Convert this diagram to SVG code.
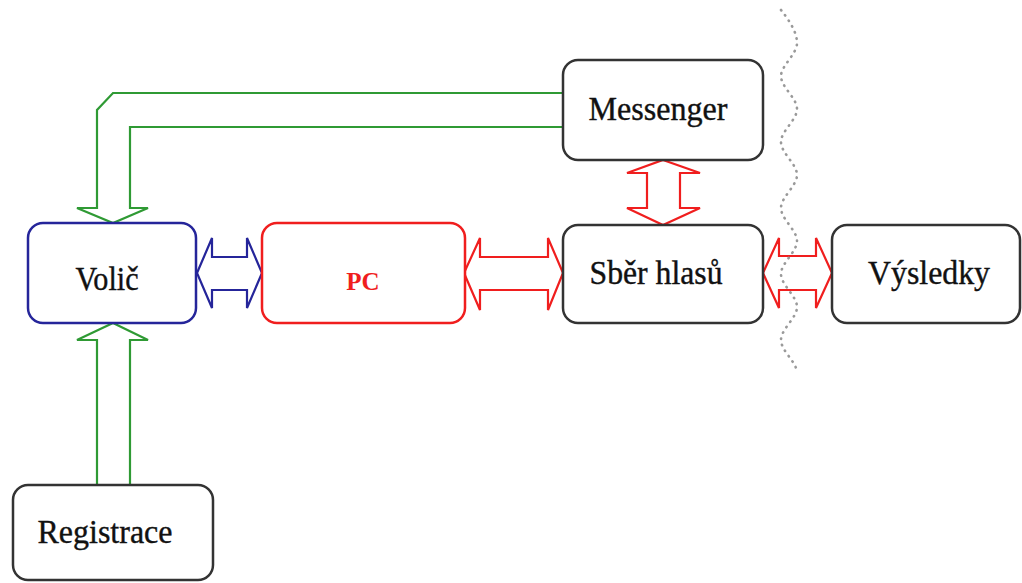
<svg xmlns="http://www.w3.org/2000/svg" width="1022" height="583" viewBox="0 0 1022 583">
<style>
.box{fill:#fff;stroke:#333;stroke-width:2.5}
.lbl{font-family:"Liberation Serif","Times New Roman",serif;font-size:34px;fill:#111;stroke:#111;stroke-width:0.4;text-anchor:middle}
.g{fill:#fff;stroke:#2f9a34;stroke-width:2.2;stroke-linejoin:miter}
.r{fill:#fff;stroke:#f01e1e;stroke-width:2.2}
.b{fill:#fff;stroke:#25259a;stroke-width:2.2}
</style>
<rect width="1022" height="583" fill="#fff"/>
<g id="connectors">
<path class="g" d="M563,93 L113,93 L97,110 L97,208 L77,208 L113,223 L148,208 L130,208 L130,127 L563,127"/>
<polygon class="g" points="113,323 148,340 130,340 130,485 97,485 97,340 77,340"/>
<polygon class="b" points="197,273 212,238 212,257 247,257 247,238 262,273 247,308 247,290 212,290 212,308"/>
<polygon class="r" points="464,273 480,238 480,257 548,257 548,238 563,273 548,310 548,290 480,290 480,310"/>
<polygon class="r" points="763,273 779,238 779,256 816,256 816,238 832,273 816,308 816,290 779,290 779,308"/>
<polygon class="r" points="663,160 700,173 680,173 680,208 700,208 663,225 627,208 647,208 647,173 627,173"/>
</g>
<path id="boundary" d="M781,10 C789,20 797,32 797,43 C797,54 781,66 781,76 C781,87 797,98 797,109 C797,120 781,131 781,142 C781,153 797,164 797,175 C797,186 781,197 781,208 C781,219 797,230 797,241 C797,252 781,263 781,274 C781,285 797,296 797,307 C797,318 781,329 781,340 C781,351 797,362 797,373" fill="none" stroke="#9a9a9a" stroke-width="2.6" stroke-dasharray="0.5 6" stroke-linecap="round"/>
<g id="volic">
<rect x="28" y="223" width="168" height="100" rx="15" fill="#fff" stroke="#25259a" stroke-width="2.5"/>
<text class="lbl" x="107" y="290" textLength="63" lengthAdjust="spacingAndGlyphs">Volič</text>
</g>
<g id="pc">
<rect x="262" y="223" width="203" height="100" rx="15" fill="#fff" stroke="#f01e1e" stroke-width="2.5"/>
<text x="363" y="290" font-family="Liberation Serif, serif" font-size="25" font-weight="bold" fill="#f01e1e" text-anchor="middle">PC</text>
</g>
<g id="messenger">
<rect class="box" x="563" y="60" width="200" height="100" rx="15"/>
<text class="lbl" x="658" y="120" textLength="139" lengthAdjust="spacingAndGlyphs">Messenger</text>
</g>
<g id="sber">
<rect class="box" x="563" y="225" width="200" height="98" rx="15"/>
<text class="lbl" x="656" y="284" textLength="133" lengthAdjust="spacingAndGlyphs">Sběr hlasů</text>
</g>
<g id="vysledky">
<rect class="box" x="832" y="225" width="188" height="98" rx="15"/>
<text class="lbl" x="929" y="284" textLength="122" lengthAdjust="spacingAndGlyphs">Výsledky</text>
</g>
<g id="registrace">
<rect class="box" x="13" y="485" width="200" height="95" rx="15"/>
<text class="lbl" x="105" y="543" textLength="135" lengthAdjust="spacingAndGlyphs">Registrace</text>
</g>
</svg>
